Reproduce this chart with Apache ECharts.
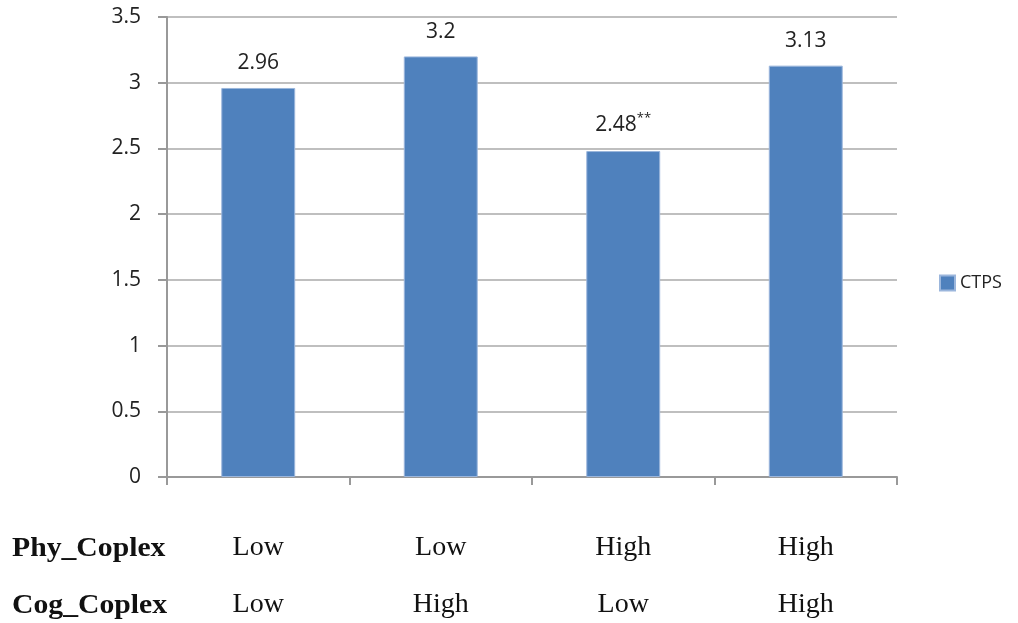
<!DOCTYPE html>
<html>
<head>
<meta charset="utf-8">
<script src="https://cdn.jsdelivr.net/npm/echarts@6/dist/echarts.min.js"></script>
<style>
  html, body { margin: 0; padding: 0; background: #fff; }
  #chart { width: 1018px; height: 623px; }
</style>
</head>
<body>
<div id="chart"></div>
<script>
// data
const phyCoplex = ['Low', 'Low', 'High', 'High']
const cogCoplex = ['Low', 'High', 'Low', 'High']
const ctps = [2.96, 3.2, 2.48, 3.13]
const marks = ['', '', '**', '']
const rowNames = ['Phy_Coplex', 'Cog_Coplex']

const chart = echarts.init(document.getElementById('chart'), null, { renderer: 'canvas' })

const sans = '"Open Sans", sans-serif'
const serif = '"Liberation Serif", serif'

const option = {
  animation: false,
  grid: { left: 167, right: 121, top: 17, bottom: 146 },
  legend: {
    data: ['CTPS'],
    orient: 'vertical',
    left: 934,
    top: 269,
    itemWidth: 15,
    itemHeight: 15,
    itemGap: 8,
    icon: 'rect',
    textStyle: { fontFamily: sans, fontSize: 18, color: '#222' }
  },
  xAxis: {
    type: 'category',
    data: phyCoplex.map((p, i) => i),
    axisLine: { lineStyle: { color: '#999', width: 2 } },
    axisTick: { show: true, length: 8, lineStyle: { color: '#999', width: 2 } },
    axisLabel: {
      margin: 42,
      formatter: (v, i) => '{a|' + phyCoplex[i] + '}\n{a|' + cogCoplex[i] + '}',
      rich: {
        a: { fontFamily: serif, fontSize: 28, color: '#111', lineHeight: 57 }
      }
    }
  },
  yAxis: {
    type: 'value',
    min: 0,
    max: 3.5,
    interval: 0.5,
    axisLine: { show: true, lineStyle: { color: '#999', width: 2 } },
    axisTick: { show: true, length: 9, lineStyle: { color: '#999', width: 2 } },
    splitLine: { lineStyle: { color: '#aaa', width: 1.5 } },
    axisLabel: {
      margin: 26,
      fontFamily: sans,
      fontSize: 21,
      color: '#222'
    }
  },
  series: [
    {
      name: 'CTPS',
      type: 'bar',
      data: ctps,
      barWidth: '40.5%',
      itemStyle: { color: '#4F81BD', borderColor: '#9bb6dc', borderWidth: 1 },
      label: {
        show: true,
        position: 'top',
        distance: 14,
        formatter: p => '{v|' + p.value + '}' + (marks[p.dataIndex] ? '{s|' + marks[p.dataIndex] + '}' : ''),
        rich: {
          v: { fontFamily: sans, fontSize: 21, color: '#222' },
          s: { fontFamily: sans, fontSize: 13, color: '#222', verticalAlign: 'top', padding: [0, 0, 12, 0] }
        }
      }
    }
  ],
  // row headers of the little table under the axis
  graphic: rowNames.map((name, i) => ({
    type: 'text',
    x: 12,
    y: 549 + i * 57,
    scaleX: 1.1,
    style: {
      text: name,
      font: 'bold 27px ' + serif,
      fill: '#111',
      verticalAlign: 'middle'
    }
  }))
}

chart.setOption(option)
</script>
</body>
</html>
